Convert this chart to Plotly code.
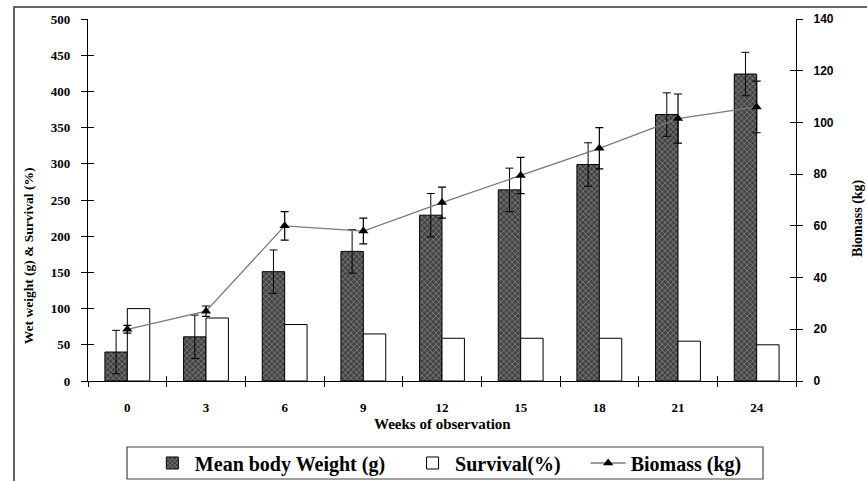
import plotly.graph_objects as go

weeks = ["0", "3", "6", "9", "12", "15", "18", "21", "24"]
mean_weight = [40, 61, 151, 179, 229, 264, 299, 368, 424]
mean_weight_err = [30, 30, 30, 30, 30, 30, 30, 30, 30]
survival = [100, 87, 78, 65, 59, 59, 59, 55, 50]
biomass = [20, 27, 60, 58, 69, 79.5, 90, 101.5, 106]
biomass_err = [1.5, 2, 5.5, 5, 6, 7, 8, 9.5, 10]

left_ticks = list(range(0, 501, 50))
right_ticks = list(range(0, 141, 20))

SERIF = "Liberation Serif, Times New Roman, serif"
SANS = "Liberation Sans, Arial, sans-serif"
PAD = "\u00a0\u00a0\u00a0\u00a0"

fig = go.Figure()

fig.add_trace(go.Bar(
    x=weeks, y=mean_weight, name="Mean body Weight (g)" + PAD,
    marker=dict(color="#444444", line=dict(color="black", width=1),
                pattern=dict(shape="x", fgcolor="#c0c0c0", bgcolor="#444444",
                             size=4, solidity=0.35)),
    error_y=dict(type="data", array=mean_weight_err, color="black",
                 thickness=1, width=4),
    offsetgroup="a", yaxis="y",
))
fig.add_trace(go.Bar(
    x=weeks, y=survival, name="Survival(%)" + PAD,
    marker=dict(color="white", line=dict(color="black", width=1)),
    offsetgroup="b", yaxis="y",
))
fig.add_trace(go.Scatter(
    x=weeks, y=biomass, name="Biomass (kg)", mode="lines+markers",
    line=dict(color="#7a7a7a", width=1.3),
    marker=dict(symbol="triangle-up", color="black", size=9),
    error_y=dict(type="data", array=biomass_err, color="black",
                 thickness=1.2, width=4),
    yaxis="y2",
))
# empty helper traces so the cross-tick overlay axes are drawn
fig.add_trace(go.Scatter(x=[], y=[], xaxis="x2", yaxis="y3",
                         showlegend=False, hoverinfo="skip"))
fig.add_trace(go.Scatter(x=[], y=[], xaxis="x2", yaxis="y4",
                         showlegend=False, hoverinfo="skip"))

tickfont_serif = dict(family=SERIF, size=13, color="black", weight="bold")
tickfont_sans = dict(family=SANS, size=12, color="black", weight="bold")

fig.update_layout(
    width=867, height=481,
    margin=dict(l=88, r=71, t=19, b=100, autoexpand=False),
    paper_bgcolor="white", plot_bgcolor="white",
    barmode="group", bargap=0.43, bargroupgap=0,
    xaxis=dict(type="category", categoryorder="array", categoryarray=weeks,
               range=[-0.5, 8.5], showline=True, linecolor="black", linewidth=1.2,
               ticks="outside", ticklen=5, tickcolor="black", tickson="boundaries",
               showgrid=False, zeroline=False, tickfont=tickfont_serif,
               ticklabelstandoff=14, automargin=False),
    xaxis2=dict(overlaying="x", anchor="y", range=[-0.5, 8.5], tick0=-0.5, dtick=1,
                ticks="inside", ticklen=5, tickcolor="black", showticklabels=False,
                showline=False, showgrid=False, zeroline=False),
    yaxis=dict(range=[0, 500], tickvals=left_ticks, showline=True, linecolor="black",
               linewidth=1.2, ticks="outside", ticklen=6, tickcolor="black",
               showgrid=False, zeroline=False, tickfont=tickfont_serif,
               ticklabelstandoff=8, automargin=False),
    yaxis2=dict(overlaying="y", side="right", anchor="x", range=[0, 140],
                tickvals=right_ticks, showline=True, linecolor="black", linewidth=1.2,
                ticks="outside", ticklen=6, tickcolor="black", showgrid=False,
                zeroline=False, tickfont=tickfont_sans, ticklabelstandoff=8,
                automargin=False),
    yaxis3=dict(overlaying="y", side="left", anchor="x2", range=[0, 500],
                tickvals=left_ticks, ticks="inside", ticklen=6, tickcolor="black",
                showticklabels=False, showline=False, showgrid=False, zeroline=False),
    yaxis4=dict(overlaying="y", side="right", anchor="x2", range=[0, 140],
                tickvals=right_ticks, ticks="inside", ticklen=6, tickcolor="black",
                showticklabels=False, showline=False, showgrid=False, zeroline=False),
    legend=dict(orientation="h", x=0.509, xanchor="center", y=-0.2265, yanchor="middle",
                font=dict(family=SERIF, size=20, color="black", weight="bold"),
                borderwidth=0, bgcolor="rgba(0,0,0,0)",
                itemwidth=35, traceorder="normal"),
    annotations=[
        dict(text="Wet weight (g) & Survival (%)", xref="paper", yref="paper",
             x=-0.0847, y=0.345, xanchor="center", yanchor="middle",
             textangle=-90, showarrow=False,
             font=dict(family=SERIF, size=13.5, color="black", weight="bold")),
        dict(text="Biomass (kg)", xref="paper", yref="paper",
             x=1.0876, y=0.450, xanchor="center", yanchor="middle",
             textangle=-90, showarrow=False,
             font=dict(family=SERIF, size=14, color="black", weight="bold")),
        dict(text="Weeks of observation", xref="paper", yref="paper",
             x=0.5014, y=-0.1188, xanchor="center", yanchor="middle",
             showarrow=False,
             font=dict(family=SERIF, size=15, color="black", weight="bold")),
    ],
    shapes=[
        dict(type="rect", xref="paper", yref="paper", x0=-0.1045, x1=1.3,
             y0=-0.5, y1=1.0331, line=dict(color="#333", width=1.5), layer="below"),
        dict(type="rect", xref="paper", yref="paper", x0=0.0551, x1=0.9534,
             y0=-0.2707, y1=-0.1823, line=dict(color="#444", width=1.2),
             fillcolor="white", layer="below"),
    ],
)

fig.write_html("out.html", config={"displayModeBar": False},
               post_script="document.body.style.margin='0';")
